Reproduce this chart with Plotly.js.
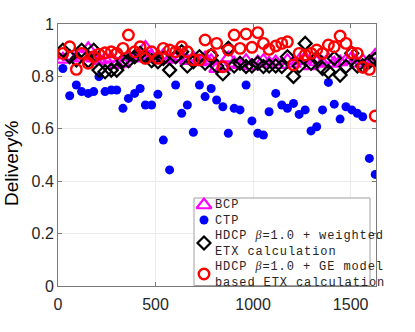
<!DOCTYPE html>
<html>
<head>
<meta charset="utf-8">
<script src="https://cdn.plot.ly/plotly-3.0.1.min.js"></script>
<style>
  html, body { margin: 0; padding: 0; background: #fff; }
  #chart { width: 415px; height: 332px; }
</style>
</head>
<body>
<div id="chart"></div>
<script>
// ----- datos
const nodos = [25, 60, 94, 121, 155, 183, 210, 241, 273, 301,
  333, 361, 393, 421, 448, 480, 512, 540, 572, 603,
  634, 663, 694, 725, 754, 785, 813, 845, 873, 903,
  933, 964, 994, 1024, 1053, 1082, 1116, 1147, 1176, 1207,
  1236, 1267, 1297, 1326, 1356, 1386, 1416, 1446, 1476, 1506,
  1534, 1562, 1596, 1626];

const bcp = [0.865, 0.875, 0.87, 0.88, 0.905, 0.87, 0.86, 0.865, 0.87, 0.845,
  0.85, 0.875, 0.87, 0.88, 0.91, 0.875, 0.87, 0.88, 0.865, 0.87,
  0.875, 0.86, 0.87, 0.855, 0.87, 0.86, 0.83, 0.835, 0.87, 0.85,
  0.845, 0.86, 0.84, 0.855, 0.86, 0.85, 0.855, 0.845, 0.86, 0.85,
  0.86, 0.87, 0.84, 0.855, 0.85, 0.865, 0.85, 0.855, 0.86, 0.87,
  0.85, 0.86, 0.855, 0.88];

const ctp = [0.83, 0.726, 0.767, 0.742, 0.735, 0.742, 0.799, 0.742, 0.748, 0.748,
  0.678, 0.716, 0.735, 0.754, 0.691, 0.691, 0.732, 0.557, 0.443, 0.767,
  0.659, 0.691, 0.587, 0.767, 0.723, 0.754, 0.71, 0.684, 0.583, 0.678,
  0.672, 0.767, 0.63, 0.583, 0.576, 0.665, 0.735, 0.691, 0.678, 0.697,
  0.655, 0.672, 0.592, 0.608, 0.672, 0.777, 0.694, 0.637, 0.684, 0.672,
  0.659, 0.646, 0.487, 0.426];

const hdcpPonderado = [0.9, 0.875, 0.863, 0.9, 0.86, 0.9, 0.824, 0.818, 0.824, 0.824,
  0.86, 0.86, 0.875, 0.888, 0.875, 0.86, 0.856, 0.869, 0.824, 0.875,
  0.894, 0.84, 0.856, 0.875, 0.85, 0.88, 0.84, 0.81, 0.907, 0.84,
  0.85, 0.838, 0.84, 0.85, 0.838, 0.84, 0.84, 0.838, 0.875, 0.8,
  0.84, 0.926, 0.85, 0.869, 0.83, 0.818, 0.869, 0.805, 0.838, 0.888,
  0.84, 0.84, 0.856, 0.865];

const hdcpGE = [0.888, 0.913, 0.827, 0.888, 0.85, 0.875, 0.885, 0.89, 0.894, 0.888,
  0.907, 0.958, 0.894, 0.913, 0.869, 0.894, 0.869, 0.907, 0.901, 0.894,
  0.913, 0.894, 0.863, 0.863, 0.939, 0.882, 0.926, 0.837, 0.901, 0.958,
  0.907, 0.962, 0.911, 0.967, 0.926, 0.903, 0.916, 0.926, 0.932, 0.844,
  0.888, 0.882, 0.888, 0.901, 0.888, 0.92, 0.913, 0.954, 0.926, 0.89,
  0.888, 0.835, 0.827, 0.649];

const xTicks = [0, 500, 1000, 1500];
const yTicks = [0, 0.2, 0.4, 0.6, 0.8, 1];
const yTickText = ['0', '0.2', '0.4', '0.6', '0.8', '1'];

// textos de la leyenda (una linea por renglon)
const beta = '<span style="font-family:\'Liberation Serif\'"><i>β</i></span>';
const lineasLeyenda = ['BCP', 'CTP',
  'HDCP ' + beta + '=1.0 + weighted', 'ETX calculation',
  'HDCP ' + beta + '=1.0 + GE model', 'based ETX calculation'];

// ----- estilos de marcadores
const estilos = [
  {symbol: 'triangle-up-open', size: 13, color: '#ff00ff', line: {width: 2.2, color: '#ff00ff'}},
  {symbol: 'circle', size: 9, color: '#0000ff', line: {width: 0}},
  {symbol: 'diamond-open', size: 10, color: '#000000', line: {width: 2.2, color: '#000000'}},
  {symbol: 'circle-open', size: 10.5, color: '#ff0000', line: {width: 2.4, color: '#ff0000'}}
];
const series = [bcp, ctp, hdcpPonderado, hdcpGE];

const trazas = series.map((s, k) => ({
  x: nodos, y: s, mode: 'markers', type: 'scatter',
  marker: estilos[k], showlegend: false, hoverinfo: 'skip'
}));

// ----- leyenda dibujada a mano (caja y simbolos en ejes superpuestos 0..1)
const plotL = 58, plotR = 376, plotT = 24, plotB = 286;
const px2x = p => (p - plotL) / (plotR - plotL);
const px2y = p => (plotB - p) / (plotB - plotT);

const caja = {x0: px2x(194), x1: px2x(370), y0: 0.002, y1: px2y(198)};
trazas.push({
  x: [caja.x0, caja.x1, caja.x1, caja.x0, caja.x0],
  y: [caja.y0, caja.y0, caja.y1, caja.y1, caja.y0],
  xaxis: 'x2', yaxis: 'y2', mode: 'lines', fill: 'toself',
  fillcolor: '#ffffff', line: {color: '#a0a0a0', width: 1},
  showlegend: false, hoverinfo: 'skip'
});
const simboloY = [205, 220, 243, 274];
estilos.forEach((e, k) => {
  trazas.push({
    x: [px2x(204)], y: [px2y(simboloY[k])], xaxis: 'x2', yaxis: 'y2',
    mode: 'markers', marker: e, showlegend: false, hoverinfo: 'skip'
  });
});

const textoLeyenda = '<span style="letter-spacing:0.9px">' + lineasLeyenda.join('<br>') + '</span>';
const anotaciones = [{
  xref: 'paper', yref: 'paper', x: px2x(213), y: px2y(243.5),
  xanchor: 'left', yanchor: 'middle', align: 'left', showarrow: false, text: textoLeyenda,
  font: {family: 'Liberation Mono, Courier New, monospace', size: 12, color: '#262626'}
}, {
  // titulo del eje y (un poco mas abajo que el centro, como en el original)
  xref: 'paper', yref: 'paper', x: px2x(11), y: px2y(163),
  xanchor: 'center', yanchor: 'middle', textangle: -90, showarrow: false,
  text: 'Delivery%', font: {family: 'Liberation Sans, Arial', size: 19, color: '#000000'}
}];

const ejeComun = {
  showline: true, linecolor: '#7a7a7a', linewidth: 1, mirror: 'ticks',
  ticks: 'inside', ticklen: 4, tickcolor: '#7a7a7a',
  showgrid: true, gridcolor: '#ebebeb', zeroline: false,
  tickfont: {family: 'Liberation Sans, Arial', size: 16, color: '#262626'}
};

const layout = {
  width: 415, height: 332,
  margin: {l: plotL, r: 415 - plotR, t: plotT, b: 332 - plotB},
  paper_bgcolor: '#ffffff', plot_bgcolor: '#ffffff',
  showlegend: false,
  xaxis: Object.assign({}, ejeComun, {
    range: [0, 1630], tickvals: xTicks, ticktext: xTicks.map(String), ticklabelstandoff: 4
  }),
  yaxis: Object.assign({}, ejeComun, {
    range: [0, 1], tickvals: yTicks, ticktext: yTickText
  }),
  xaxis2: {overlaying: 'x', range: [0, 1], visible: false, fixedrange: true},
  yaxis2: {overlaying: 'y', range: [0, 1], visible: false, fixedrange: true},
  annotations: anotaciones
};

Plotly.newPlot('chart', trazas, layout, {displayModeBar: false, staticPlot: true});
</script>
</body>
</html>
